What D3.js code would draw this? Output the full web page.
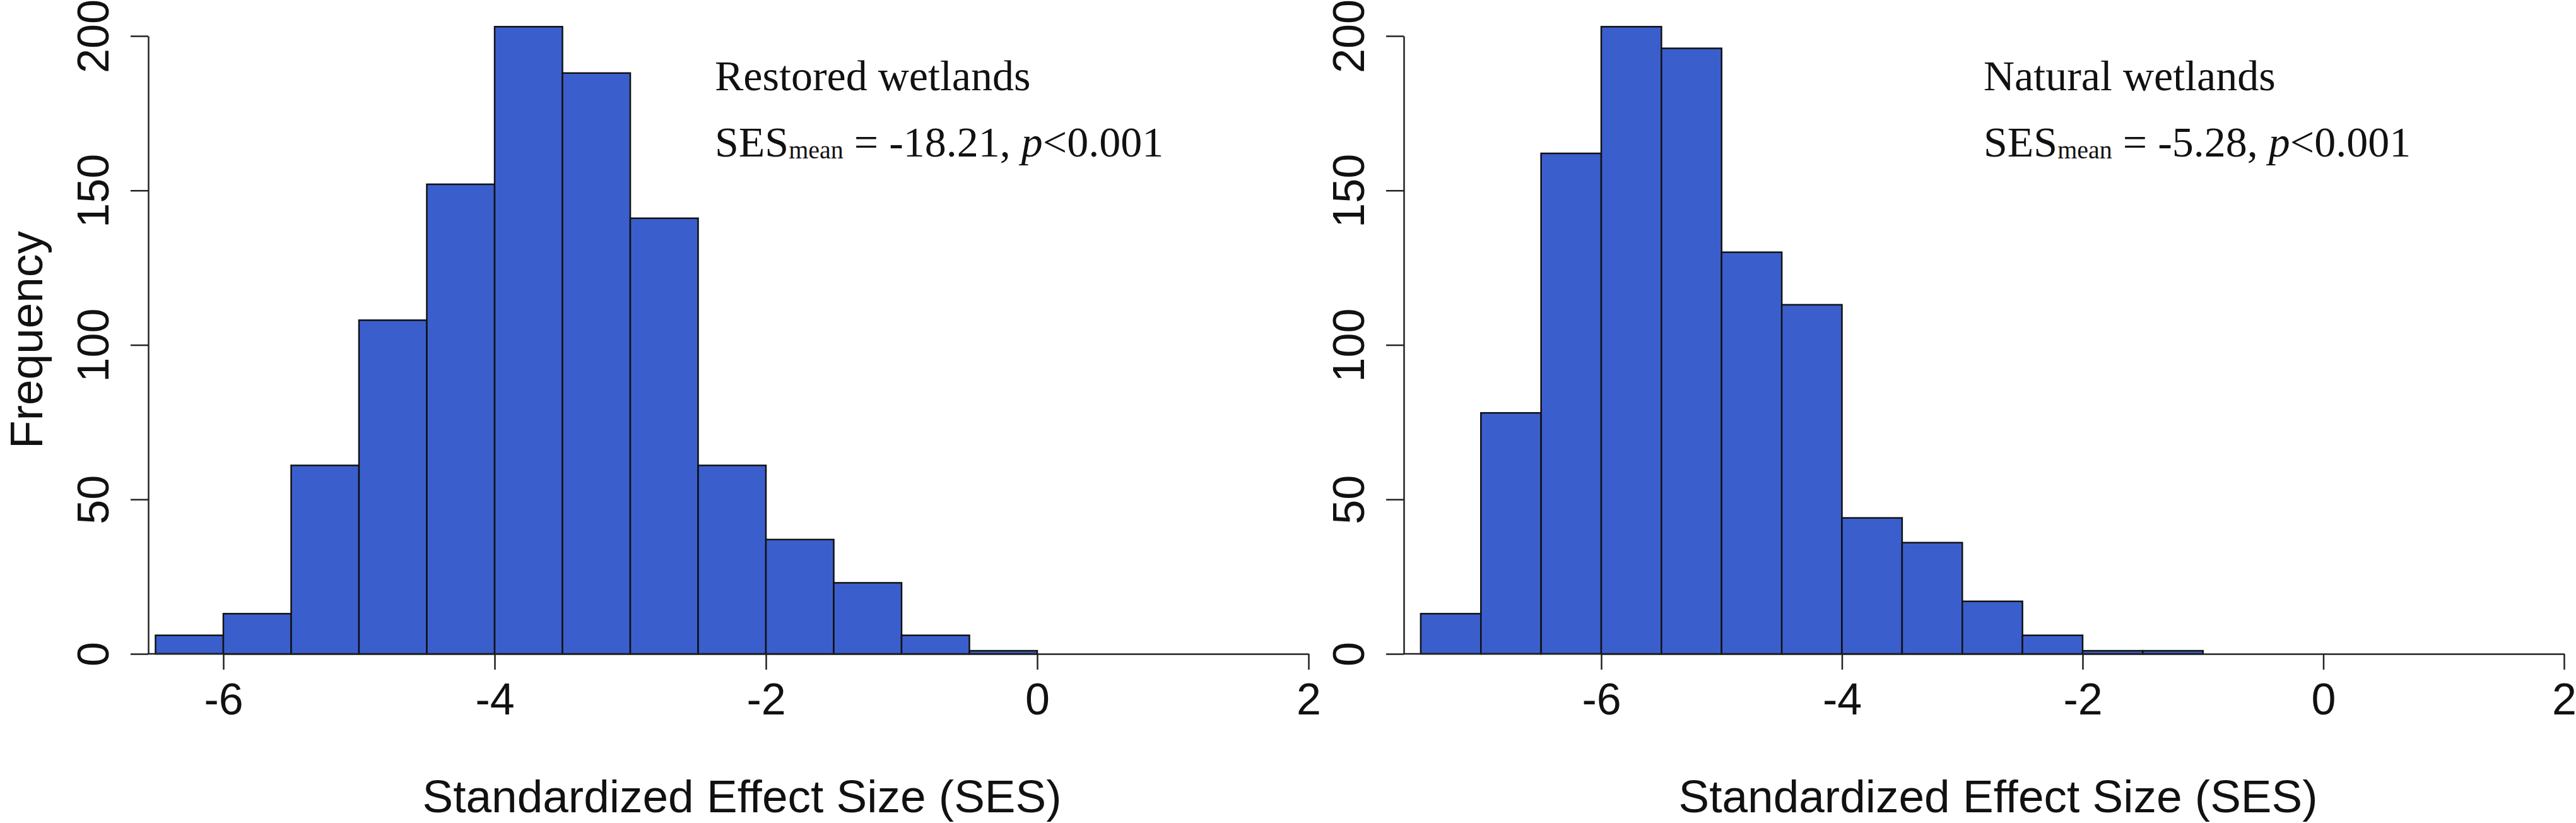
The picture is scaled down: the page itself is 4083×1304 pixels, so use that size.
<!DOCTYPE html>
<html lang="en">
<head>
    <meta charset="UTF-8">
    <title>SES null model histograms</title>
    <style>
        html, body {
            margin: 0;
            padding: 0;
            background: #fff;
            overflow: hidden;
        }
        svg {
            display: block;
        }
        .bar {
            fill: #3a5fcd;
            stroke: #111;
            stroke-width: 2.5px;
        }
        .axis path, .axis line {
            stroke: #222;
            stroke-width: 2.5px;
        }
        .axis text {
            font-family: "Liberation Sans", Arial, sans-serif;
            font-size: 70px;
            fill: #111;
        }
        .axis-title {
            font-family: "Liberation Sans", Arial, sans-serif;
            font-size: 73px;
            fill: #111;
        }
        .note {
            font-family: "Liberation Serif", "Times New Roman", serif;
            font-size: 68px;
            fill: #111;
        }
    </style>
    <script src="https://d3js.org/d3.v7.min.js"></script>
</head>
<body>
    <svg></svg>
    <script>
        // histogram bins (lower edges, width 0.5) and counts
        var restoredBins = [-6.5, -6, -5.5, -5, -4.5, -4, -3.5, -3, -2.5, -2, -1.5, -1, -0.5];
        var restoredCounts = [6, 13, 61, 108, 152, 203, 188, 141, 61, 37, 23, 6, 1];

        var naturalBins = [-7.5, -7, -6.5, -6, -5.5, -5, -4.5, -4, -3.5, -3, -2.5, -2, -1.5];
        var naturalCounts = [13, 78, 162, 203, 196, 130, 113, 44, 36, 17, 6, 1, 1];

        var binWidth = 0.5;
        var xTicks = [-6, -4, -2, 0, 2];
        var yTicks = [0, 50, 100, 150, 200];

        var width = 4083,
            height = 1304;

        var svg = d3.select("svg")
            .attr("width", width)
            .attr("height", height);

        var y = d3.scaleLinear().domain([0, 200]).range([1036, 57]);

        var panels = [
            {
                bins: restoredBins, counts: restoredCounts,
                xRange: [354, 2074], yAxisX: 235, labelX: 1176,
                title: "Restored wetlands", ses: "-18.21", noteX: 1133,
                ylab: true
            },
            {
                bins: naturalBins, counts: naturalCounts,
                xRange: [2538, 4064], yAxisX: 2225, labelX: 3167,
                title: "Natural wetlands", ses: "-5.28", noteX: 3144,
                ylab: false
            }
        ];

        // plain hyphen for negatives, like R's axis labels
        var plain = d => String(d);

        panels.forEach(function(p) {
            var x = d3.scaleLinear().domain([-6, 2]).range(p.xRange);
            var g = svg.append("g");

            var data = p.bins.map(function(b, i) {
                return { x0: b, x1: b + binWidth, n: p.counts[i] };
            });

            g.selectAll("rect")
                .data(data)
                .enter().append("rect")
                .attr("class", "bar")
                .attr("x", d => x(d.x0))
                .attr("width", d => x(d.x1) - x(d.x0))
                .attr("y", d => y(d.n))
                .attr("height", d => y(0) - y(d.n));

            // baseline between the y axis and the first tick
            g.append("line")
                .attr("x1", p.yAxisX).attr("x2", x(-6))
                .attr("y1", y(0)).attr("y2", y(0))
                .attr("stroke", "#222").attr("stroke-width", 2.5);

            var xAxis = g.append("g")
                .attr("class", "axis")
                .attr("transform", "translate(0," + y(0) + ")")
                .call(d3.axisBottom(x).tickValues(xTicks).tickFormat(plain)
                    .tickSize(25).tickSizeOuter(0));
            xAxis.selectAll("text")
                .attr("y", 96)
                .attr("dy", null);

            var yAxis = g.append("g")
                .attr("class", "axis")
                .attr("transform", "translate(" + p.yAxisX + ",0)")
                .call(d3.axisLeft(y).tickValues(yTicks).tickFormat(plain)
                    .tickSize(28).tickSizeOuter(0));
            yAxis.selectAll(".tick text")
                .attr("x", null).attr("dy", null)
                .attr("text-anchor", "middle")
                .attr("transform", "translate(-63,0) rotate(-90)");

            g.append("text")
                .attr("class", "axis-title")
                .attr("x", p.labelX)
                .attr("y", 1287)
                .attr("text-anchor", "middle")
                .text("Standardized Effect Size (SES)");

            if (p.ylab) {
                g.append("text")
                    .attr("class", "axis-title")
                    .attr("text-anchor", "middle")
                    .attr("transform", "translate(67," + ((y(0) + y(200)) / 2 - 8) + ") rotate(-90)")
                    .text("Frequency");
            }

            g.append("text")
                .attr("class", "note")
                .attr("x", p.noteX)
                .attr("y", 143)
                .text(p.title);

            var line2 = g.append("text")
                .attr("class", "note")
                .attr("x", p.noteX)
                .attr("y", 248);
            line2.append("tspan").text("SES");
            line2.append("tspan").attr("font-size", "40px").attr("dy", 3).text("mean");
            line2.append("tspan").attr("dy", -3).text(" = " + p.ses + ", ");
            line2.append("tspan").attr("font-style", "italic").text("p");
            line2.append("tspan").text("<0.001");
        });
    </script>
</body>
</html>
